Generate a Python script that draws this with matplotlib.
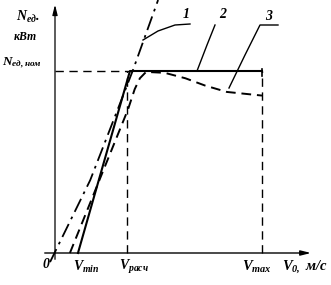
import matplotlib
matplotlib.use("Agg")
import matplotlib.pyplot as plt
import numpy as np

plt.rcParams['mathtext.fontset'] = 'custom'
plt.rcParams['mathtext.rm'] = 'Liberation Serif:italic:bold'
plt.rcParams['mathtext.it'] = 'Liberation Serif:italic:bold'
plt.rcParams['mathtext.bf'] = 'Liberation Serif:italic:bold'

# ---- data (relative units: V in fractions of Vmax*10, N in fractions of N_nom) ----
V_min = 1.11
V_rasch = 3.48
V_max = 10.0
N_nom = 1.0

# curve 1 (dash-dot)
v1 = [-0.24, 1.7, 3.75, 4.98]
n1 = [-0.05, 0.40, 1.0, 1.39]
# curve 2 (solid)
v2 = [V_min, 3.62, V_max]
n2 = [0.0, 1.0, 1.0]
# curve 3 (dashed)
v3 = [0.72, 3.53, 3.85, 4.1, 4.4, 5.3, 6.3, 7.25, 8.3, 10.0]
n3 = [0.0, 0.79, 0.90, 0.96, 0.995, 0.99, 0.96, 0.92, 0.885, 0.865]

fig = plt.figure(figsize=(3.31, 2.85), dpi=100)
ax = fig.add_axes([0, 0, 1, 1])
ax.set_xlim(-55/20.7, (331-55)/20.7)
ax.set_ylim((253-285)/182, 253/182)
ax.axis('off')

k = 'black'
# axes with arrows
ax.annotate('', xy=(12.5, 0), xytext=(-0.63, 0),
            arrowprops=dict(arrowstyle='-|>,head_length=0.6,head_width=0.15', color=k, lw=1.0))
ax.annotate('', xy=(0, 1.38), xytext=(0, -0.05),
            arrowprops=dict(arrowstyle='-|>,head_length=0.6,head_width=0.15', color=k, lw=0.9))

# guide dashed lines
ax.plot([0, 3.7], [N_nom, N_nom], color=k, lw=1.0, ls=(0, (6, 4)))
ax.plot([V_rasch, V_rasch], [0, N_nom], color=k, lw=1.0, ls=(0, (6, 4)))
ax.plot([V_max, V_max], [0, N_nom], color=k, lw=1.0, ls=(0, (6, 4)))
ax.plot([V_max, V_max], [N_nom - 0.03, N_nom + 0.01], color=k, lw=1.2)

# curves
ax.plot(v1, n1, color=k, lw=1.3, ls=(0, (8, 3, 1.5, 3)))
ax.plot(v2, n2, color=k, lw=1.5)
ax.plot(v3, n3, color=k, lw=1.4, ls=(0, (5, 3)))

# leaders
def px(x, y):
    return ((x-55)/20.7, (253-y)/182)
for pts in ([(143, 40), (158, 31), (175, 25), (190, 24)],
            [(197, 71), (207, 45), (215, 25)],
            [(229, 88), (245, 55), (260, 25), (278, 25)]):
    xs, ys = zip(*[px(*p) for p in pts])
    ax.plot(xs, ys, color=k, lw=1.0)

fs = 10
def txt(x, y, s, size=fs, ha='left'):
    X, Y = px(x, y)
    ax.text(X, Y, s, fontsize=size, ha=ha, va='center',
            family='Liberation Serif', style='italic', weight='bold')

txt(183, 15, '1')
txt(219, 15, '2')
txt(265, 16, '3')
txt(16, 17, r'$N_{ед}$.')
txt(14, 37, 'кВт', size=8.5)
txt(2, 63, r'$N_{ед,ном}$', size=9.5)
txt(43, 265, '0')
txt(73, 267, r'$V_{min}$')
txt(119, 267, r'$V_{расч}$')
txt(242, 267, r'$V_{max}$', size=10.5)
txt(282, 267, r'$V_{0,}$ м/с', size=10.5)

fig.savefig('out.png', dpi=100)
